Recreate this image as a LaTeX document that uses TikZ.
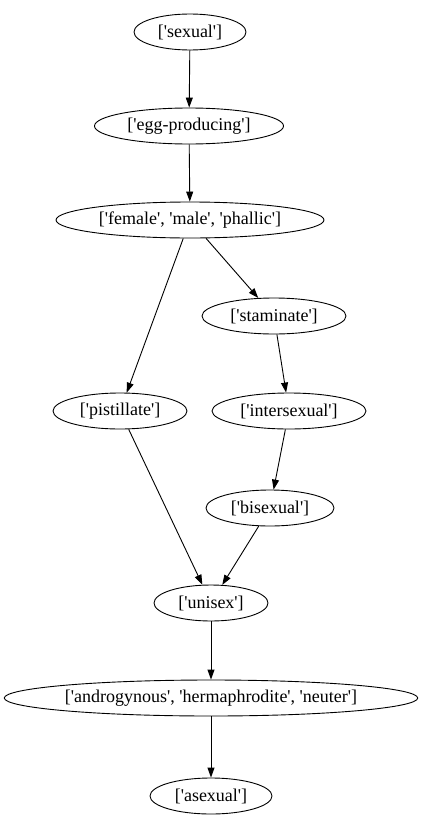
\documentclass[tikz,border=0pt]{standalone}
\usepackage{fontspec}
\setmainfont{Liberation Serif}
\usetikzlibrary{shapes.geometric,arrows.meta}
\newcommand\sq{\textquotesingle}
\tikzset{
  gnode/.style={ellipse, draw, line width=0.9pt, inner sep=0pt, minimum height=36pt,
    font=\fontsize{18}{20}\selectfont},
  gedge/.style={line width=0.9pt, -{Triangle[length=10pt,width=7pt]}}
}
\begin{document}
\begin{tikzpicture}[x=1pt,y=-1pt]
\useasboundingbox (0,0) rectangle (421,827);
\node[gnode, minimum width=112pt] (sexual) at (190,32) {[\sq sexual\sq]};
\node[gnode, minimum width=189pt] (egg) at (189,126) {[\sq egg-producing\sq]};
\node[gnode, minimum width=268pt] (fmp) at (190,220) {[\sq female\sq, \sq male\sq, \sq phallic\sq]};
\node[gnode, minimum width=144pt] (stam) at (274,316) {[\sq staminate\sq]};
\node[gnode, minimum width=134pt] (pist) at (120,411) {[\sq pistillate\sq]};
\node[gnode, minimum width=154pt] (inter) at (289,411) {[\sq intersexual\sq]};
\node[gnode, minimum width=128pt] (bis) at (270,508) {[\sq bisexual\sq]};
\node[gnode, minimum width=114pt] (uni) at (211,603) {[\sq unisex\sq]};
\node[gnode, minimum width=409pt] (andro) at (211,698) {[\sq androgynous\sq, \sq hermaphrodite\sq, \sq neuter\sq]};
\node[gnode, minimum width=122pt] (asex) at (211,796) {[\sq asexual\sq]};
\draw[gedge] (sexual) -- (egg);
\draw[gedge] (egg) -- (fmp);
\draw[gedge] (fmp) -- (stam);
\draw[gedge] (fmp) -- (pist);
\draw[gedge] (stam) -- (inter);
\draw[gedge] (inter) -- (bis);
\draw[gedge] (bis) -- (uni);
\draw[gedge] (pist) -- (uni);
\draw[gedge] (uni) -- (andro);
\draw[gedge] (andro) -- (asex);
\end{tikzpicture}
\end{document}
